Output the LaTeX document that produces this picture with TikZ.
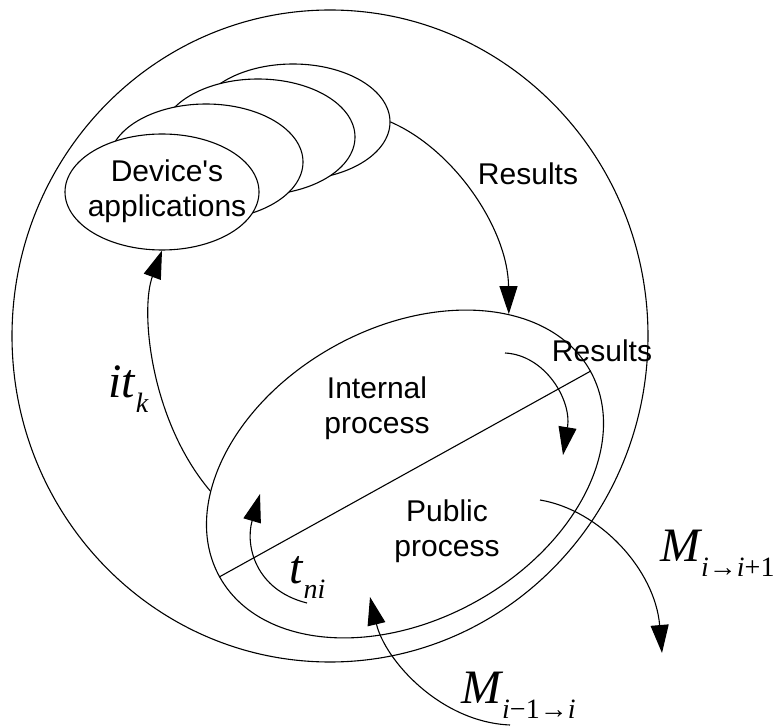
\documentclass[tikz,border=0pt]{standalone}
\usepackage{fontspec}
\setmainfont{Liberation Sans}
\newfontfamily\timesfont{Liberation Serif}
\usetikzlibrary{shapes.geometric,arrows.meta}
\tikzset{
  oval/.style={draw, ellipse, line width=1.1pt, inner sep=0pt},
  appoval/.style={oval, fill=white, minimum width=194pt, minimum height=116pt},
  lbl/.style={font=\fontsize{30}{35}\selectfont, align=center, inner sep=0pt},
  mlbl/.style={anchor=base west, inner sep=0pt},
  flow/.style={line width=1.1pt, -{Triangle[length=28pt,width=18pt]}},
  divline/.style={line width=1.1pt},
}
\newcommand{\symlab}[2]{{\fontsize{48}{48}\selectfont\timesfont\itshape #1}\kern1pt\raisebox{-15pt}{\fontsize{28}{28}\selectfont\timesfont #2}}

\begin{document}
\begin{tikzpicture}[x=1pt,y=-1pt]
  \useasboundingbox (0,0) rectangle (782,727);
  % outer circle and the process ellipse
  \node[oval, minimum width=636pt, minimum height=652pt] (world) at (330,336) {};
  \node[oval, minimum width=424pt, minimum height=292pt, rotate=29] (proc) at (405,474) {};
  \draw[divline] (proc.west) -- (proc.east);
  % stack of device applications, back to front
  \foreach \n/\px/\py in {4/293/122, 3/258/137, 2/206/162, 1/162/192}
    \node[appoval] (app\n) at (\px,\py) {};
  \node[lbl] (applbl) at (167,191) {Device\textquotesingle s\\applications};
  \node[lbl] (intlbl) at (377,408) {Internal\\process};
  \node[lbl] (publbl) at (447,531) {Public\\process};
  \node[lbl] (res1) at (528,174) {Results};
  \node[lbl] (res2) at (602,351) {Results};
  \node[mlbl] (itk) at (108,397) {\symlab{it}{\itshape k}};
  \node[mlbl] (tni) at (289,583) {\symlab{t}{\itshape ni}};
  \node[mlbl] (mout) at (660,561) {\symlab{M}{\itshape i\upshape→\itshape i\upshape+1}};
  \node[mlbl] (min) at (461,703) {\symlab{M}{\itshape i\upshape−1→\itshape i}};
  % free ends of the arrows
  \coordinate (res2s) at (505,353);
  \coordinate (res2e) at (563,455);
  \coordinate (tnis) at (307,603);
  \coordinate (tnie) at (260,494);
  \coordinate (mouts) at (540,500);
  \coordinate (moute) at (662,653);
  \coordinate (mins) at (510,725);
  \coordinate (mine) at (370,597);
  % arrows
  \draw[flow] (app4.east) .. controls (455,150) and (508,230) .. (proc.28);
  \draw[flow] (res2s) .. controls (545,355) and (572,400) .. (res2e);
  \draw[flow] (proc.156) .. controls (150,420) and (140,310) .. (app1.south);
  \draw[flow] (tnis) .. controls (255,590) and (245,545) .. (tnie);
  \draw[flow] (mouts) .. controls (600,510) and (655,570) .. (moute);
  \draw[flow] (mins) .. controls (440,722) and (385,660) .. (mine);
\end{tikzpicture}
\end{document}
